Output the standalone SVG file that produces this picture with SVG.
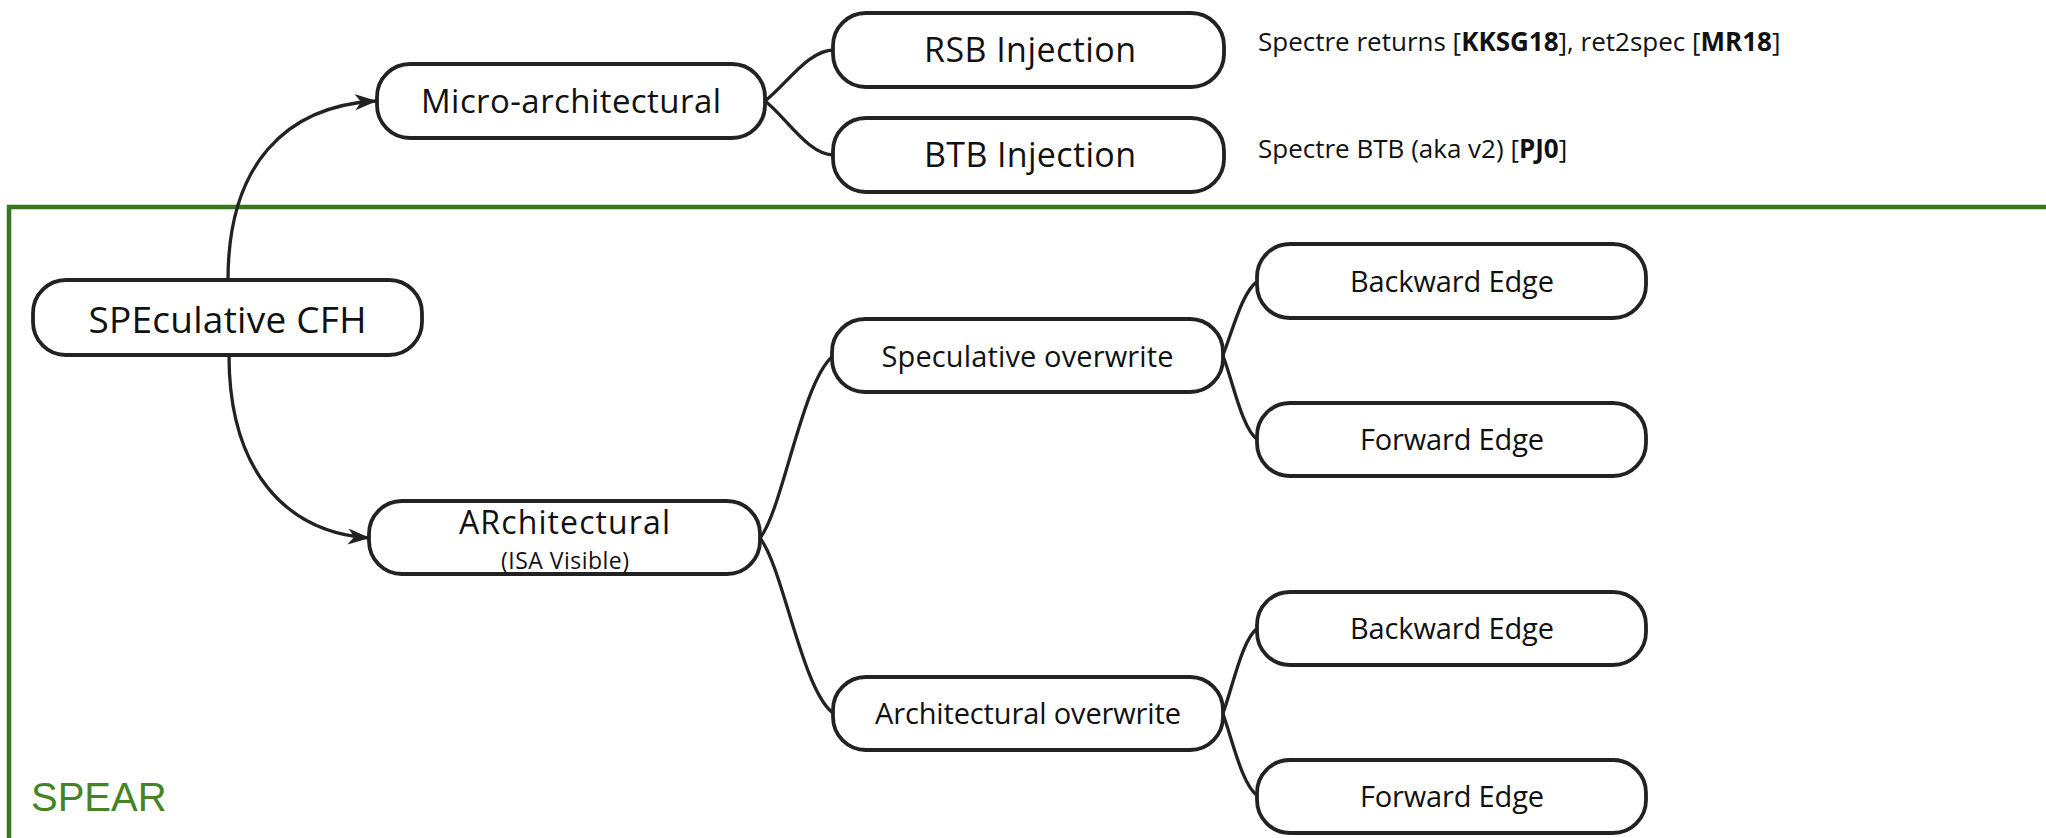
<svg xmlns="http://www.w3.org/2000/svg" width="2046" height="838" viewBox="0 0 2046 838">
  <style>
    .box { fill: #ffffff; stroke: #222222; stroke-width: 3.8; }
    .lbl { font-family: "Open Sans", "Noto Sans", sans-serif; fill: #111111; text-anchor: middle; }
    .note { font-family: "Open Sans", "Noto Sans", sans-serif; fill: #111111; font-size: 26px; }
    .note tspan.b { font-weight: 700; }
    .conn { fill: none; stroke: #222222; stroke-width: 3.3; }
    .frame { fill: none; stroke: #3a761f; stroke-width: 4.5; }
    .frame-label { font-family: "Liberation Sans", Arial, sans-serif; font-size: 40px; fill: #458426; }
  </style>
  <defs>
    <marker id="arrow" viewBox="0 0 22 18" refX="21" refY="9" markerWidth="22" markerHeight="18" orient="auto" markerUnits="userSpaceOnUse">
      <path d="M0,1 L22,9 L0,17 L6,9 Z" fill="#222222"/>
    </marker>
  </defs>

  <rect width="2046" height="838" fill="#ffffff"/>

  <g id="spear-frame">
    <rect class="frame" x="9" y="207" width="2100" height="700"/>
    <text class="frame-label" x="31" y="811">SPEAR</text>
  </g>

  <g id="connectors">
    <path class="conn" d="M228,280 C228,165 285,106 376,101" marker-end="url(#arrow)"/>
    <path class="conn" d="M229,355 C229,470 285,532 369,538" marker-end="url(#arrow)"/>
    <path class="conn" d="M765,101 C786,85 808,50 834,50"/>
    <path class="conn" d="M765,101 C786,117 808,155 834,155"/>
    <path class="conn" d="M760,538 C783,509 802,381 833,356"/>
    <path class="conn" d="M760,538 C783,567 802,690 833,713"/>
    <path class="conn" d="M1223,355 C1232,333 1242,291 1258,281"/>
    <path class="conn" d="M1223,356 C1232,378 1242,430 1258,440"/>
    <path class="conn" d="M1223,713 C1232,690 1242,638 1258,628"/>
    <path class="conn" d="M1223,714 C1232,738 1242,786 1258,796"/>
  </g>

  <g id="node-speculative-cfh">
    <rect class="box" x="33" y="280" width="389" height="75" rx="33" ry="33"/>
    <text class="lbl" x="227.5" y="333" font-size="37" textLength="278">SPEculative CFH</text>
  </g>

  <g id="node-micro-architectural">
    <rect class="box" x="377" y="64" width="388" height="74" rx="33" ry="33"/>
    <text class="lbl" x="571" y="113" font-size="33" textLength="300">Micro-architectural</text>
  </g>

  <g id="node-rsb-injection">
    <rect class="box" x="833" y="13" width="391" height="74" rx="33" ry="33"/>
    <text class="lbl" x="1030" y="62" font-size="34" textLength="212">RSB Injection</text>
  </g>

  <g id="node-btb-injection">
    <rect class="box" x="833" y="118" width="391" height="74" rx="33" ry="33"/>
    <text class="lbl" x="1030" y="167" font-size="34" textLength="212">BTB Injection</text>
  </g>

  <g id="node-architectural">
    <rect class="box" x="369" y="501" width="391" height="73" rx="33" ry="33"/>
    <text class="lbl" x="564.5" y="534" font-size="32" textLength="211">ARchitectural</text>
    <text class="lbl" x="565" y="569" font-size="23" textLength="128">(ISA Visible)</text>
  </g>

  <g id="node-speculative-overwrite">
    <rect class="box" x="832" y="319" width="391" height="73" rx="33" ry="33"/>
    <text class="lbl" x="1027.5" y="367" font-size="29" textLength="292">Speculative overwrite</text>
  </g>

  <g id="node-architectural-overwrite">
    <rect class="box" x="833" y="677" width="390" height="73" rx="33" ry="33"/>
    <text class="lbl" x="1028" y="724" font-size="29" textLength="306">Architectural overwrite</text>
  </g>

  <g id="node-backward-edge-1">
    <rect class="box" x="1257" y="244" width="389" height="74" rx="33" ry="33"/>
    <text class="lbl" x="1452" y="292" font-size="29" textLength="204">Backward Edge</text>
  </g>

  <g id="node-forward-edge-1">
    <rect class="box" x="1257" y="403" width="389" height="73" rx="33" ry="33"/>
    <text class="lbl" x="1452" y="450" font-size="29" textLength="184">Forward Edge</text>
  </g>

  <g id="node-backward-edge-2">
    <rect class="box" x="1257" y="592" width="389" height="73" rx="33" ry="33"/>
    <text class="lbl" x="1452" y="639" font-size="29" textLength="204">Backward Edge</text>
  </g>

  <g id="node-forward-edge-2">
    <rect class="box" x="1257" y="760" width="389" height="73" rx="33" ry="33"/>
    <text class="lbl" x="1452" y="807" font-size="29" textLength="184">Forward Edge</text>
  </g>

  <g id="annotations">
    <text class="note" x="1258" y="51">Spectre returns [<tspan class="b">KKSG18</tspan>], ret2spec [<tspan class="b">MR18</tspan>]</text>
    <text class="note" x="1258" y="158">Spectre BTB (aka v2) [<tspan class="b">PJ0</tspan>]</text>
  </g>
</svg>
